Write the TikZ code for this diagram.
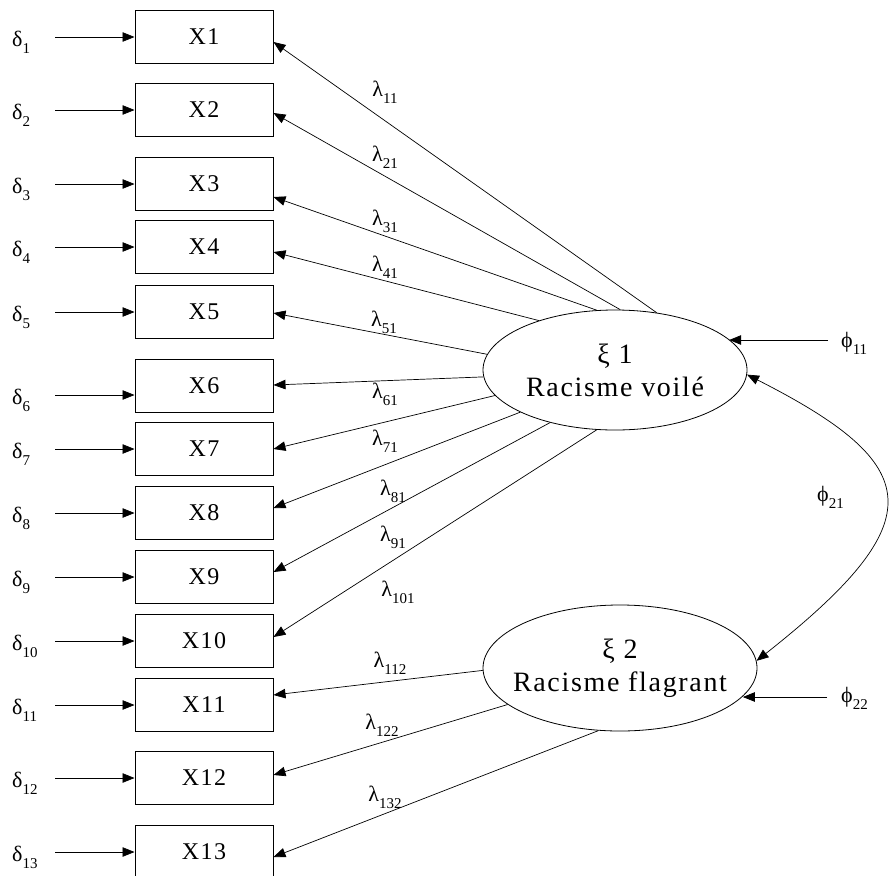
\documentclass[tikz,border=0pt]{standalone}
\usepackage{fontspec}
\setmainfont{Liberation Serif}
\newfontfamily\spaced{Liberation Serif}[LetterSpace=6]
\usetikzlibrary{shapes.geometric,arrows.meta}
\newcommand\sbs[1]{\raisebox{-0.32em}{\fontsize{15}{15}\selectfont #1}}
\newcommand\zw[1]{\makebox[0pt][c]{#1}}
\begin{document}
\begin{tikzpicture}[x=1pt,y=-1pt,
  obs/.style={draw, line width=1pt, minimum width=138pt, minimum height=53pt, inner sep=0pt,
    font=\spaced\fontsize{24}{26}\selectfont},
  lat/.style={ellipse, draw, line width=0.8pt, inner sep=0pt, align=center,
    font=\spaced\fontsize{28}{33}\selectfont},
  lbl/.style={inner sep=0pt, font=\fontsize{22}{24}\selectfont},
  arr/.style={-{Triangle[length=12pt,width=9.5pt]}, line width=0.7pt},
  dbl/.style={{Triangle[length=12pt,width=9.5pt]}-{Triangle[length=12pt,width=9.5pt]}, line width=0.7pt}]
\path[use as bounding box, fill=white] (0,0) rectangle (890,875);

% observed variables
\node[obs] (X1) at (204,37) {X1};
\node[obs] (X2) at (204,110) {X2};
\node[obs] (X3) at (204,184) {X3};
\node[obs] (X4) at (204,247) {X4};
\node[obs] (X5) at (204,312) {X5};
\node[obs] (X6) at (204,386) {X6};
\node[obs] (X7) at (204,449) {X7};
\node[obs] (X8) at (204,513) {X8};
\node[obs] (X9) at (204,577) {X9};
\node[obs] (X10) at (204,641) {X10};
\node[obs] (X11) at (204,705) {X11};
\node[obs] (X12) at (204,778) {X12};
\node[obs] (X13) at (204,852) {X13};

% latent variables
\node[lat, minimum width=264pt, minimum height=120pt] (e1) at (615,370) {\zw{ξ 1}\\\zw{Racisme voilé}};
\node[lat, minimum width=274pt, minimum height=126pt] (e2) at (620,668) {\zw{ξ 2}\\\zw{Racisme flagrant}};

% error terms
\foreach \i/\y in {1/37,2/110,3/184,4/247,5/312,6/395,7/449,8/513,9/577,10/641,11/705,12/778,13/852}{
  \node[lbl, anchor=base west] (d\i) at (12,\y+9) {δ\sbs{\i}};
  \coordinate (d\i s) at (55,\y);
}
\foreach \i in {1,2,3,4,5,7,8,9,10,11,12,13}{
  \draw[arr] (d\i s) -- (X\i.west);
}
\draw[arr] (d6s) -- ([yshift=-9pt]X6.west);

% loadings xi 1
\draw[arr] (e1.54) -- ([yshift=-5pt]X1.east);
\draw[arr] (e1.85) -- ([yshift=-3pt]X2.east);
\draw[arr] (e1.107) -- ([yshift=-13pt]X3.east);
\draw[arr] (e1.147) -- ([yshift=-5pt]X4.east);
\draw[arr] (e1.173) -- ([yshift=-1pt]X5.east);
\draw[arr] (e1.183) -- ([yshift=1pt]X6.east);
\draw[arr] (e1.192) -- (X7.east);
\draw[arr] (e1.204) -- ([yshift=5pt]X8.east);
\draw[arr] (e1.219) -- ([yshift=5pt]X9.east);
\draw[arr] (e1.253) -- ([yshift=4pt]X10.east);
% loadings xi 2
\draw[arr] (e2.181) -- ([yshift=10pt]X11.east);
\draw[arr] (e2.198) -- ([yshift=3pt]X12.east);
\draw[arr] (e2.251) -- ([yshift=-5pt]X13.east);

% loading labels
\node[lbl] (l1) at (385,92) {λ\sbs{11}};
\node[lbl] (l2) at (385,157) {λ\sbs{21}};
\node[lbl] (l3) at (385,221) {λ\sbs{31}};
\node[lbl] (l4) at (385,267) {λ\sbs{41}};
\node[lbl] (l5) at (384,322) {λ\sbs{51}};
\node[lbl] (l6) at (385,394) {λ\sbs{61}};
\node[lbl] (l7) at (385,441) {λ\sbs{71}};
\node[lbl] (l8) at (393,491) {λ\sbs{81}};
\node[lbl] (l9) at (393,537) {λ\sbs{91}};
\node[lbl] (l10) at (398,592) {λ\sbs{101}};
\node[lbl] (l11) at (390,663) {λ\sbs{112}};
\node[lbl] (l12) at (382,725) {λ\sbs{122}};
\node[lbl] (l13) at (385,797) {λ\sbs{132}};

% phi terms
\node[lbl, anchor=west] (p11) at (841,343) {ϕ\sbs{11}};
\node[lbl, anchor=west] (p22) at (841,698) {ϕ\sbs{22}};
\node[lbl, anchor=west] (p21) at (817,497) {ϕ\sbs{21}};
\coordinate (p11s) at (828,340);
\coordinate (p22s) at (827,697);
\draw[arr] (p11s) -- (p11s -| e1.15);
\draw[arr] (p22s) -- (p22s -| e2.-13);
\draw[dbl] (e1.-2) .. controls (925,465) and (935,520) .. (e2.3);
\end{tikzpicture}
\end{document}
